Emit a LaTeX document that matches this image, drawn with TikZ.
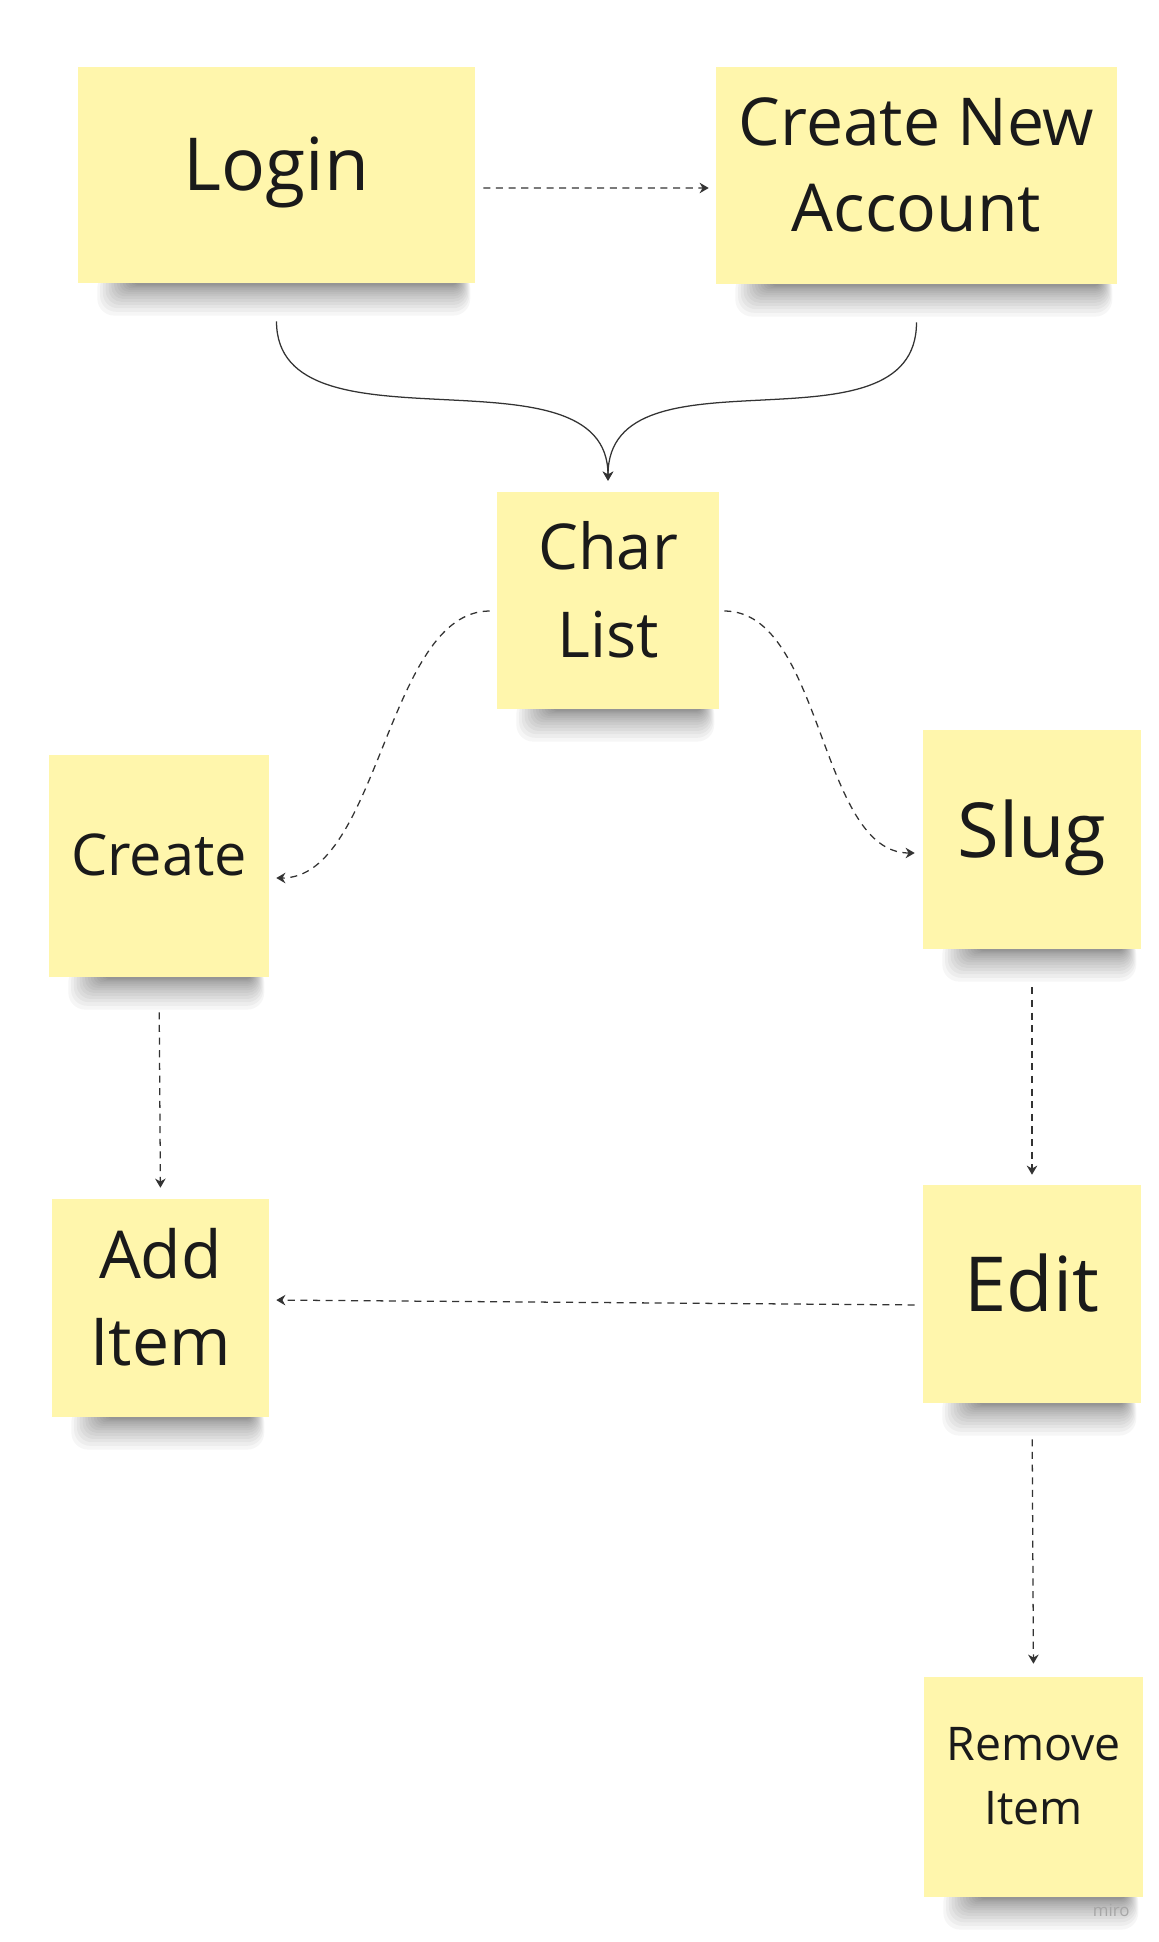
\documentclass[tikz,border=0pt]{standalone}
\usepackage{fontspec}
\setmainfont{Open Sans}
\usetikzlibrary{arrows.meta}
\pgfdeclarelayer{bg}
\pgfsetlayers{bg,main}
\definecolor{notefill}{HTML}{FFF6AC}
\definecolor{notetext}{HTML}{1A1A1A}
\definecolor{linegray}{HTML}{333333}
\newcommand{\notefont}[2]{\fontsize{#1}{#2}\selectfont}
% invisible strut that lifts the text a little above the middle
\newcommand{\sinkstrut}{\rule[-0.55cm]{0pt}{0.55cm}}
\tikzset{
        note/.style={fill=notefill, text=notetext, inner sep=0pt, align=center},
        flow/.style={draw=linegray, line width=0.9pt, -{Stealth[length=6.5pt,width=7.5pt]}},
        dflow/.style={flow, dash pattern=on 5pt off 4pt},
}
\begin{document}
\begin{tikzpicture}
        \useasboundingbox (0cm, 0cm) rectangle (28.95cm, -48.55cm);
        \node (login) [note, minimum width=9.925cm, minimum height=5.4cm, font=\notefont{52pt}{72pt}] at (6.9125cm, -4.375cm) {Login\sinkstrut};
        \node (newacc) [note, minimum width=10.025cm, minimum height=5.425cm, font=\notefont{47pt}{61pt}] at (22.9125cm, -4.3875cm) {Create New\\Account\sinkstrut};
        \node (charlist) [note, minimum width=5.55cm, minimum height=5.425cm, font=\notefont{45pt}{63pt}] at (15.2cm, -15.0125cm) {Char\\List\sinkstrut};
        \node (create) [note, minimum width=5.5cm, minimum height=5.55cm, font=\notefont{41pt}{56pt}] at (3.975cm, -21.65cm) {Create\sinkstrut};
        \node (slug) [note, minimum width=5.45cm, minimum height=5.475cm, font=\notefont{54pt}{74pt}] at (25.8cm, -20.9875cm) {Slug\sinkstrut};
        \node (additem) [note, minimum width=5.425cm, minimum height=5.45cm, font=\notefont{47pt}{62pt}] at (4.0125cm, -32.7cm) {Add\\Item\sinkstrut};
        \node (edit) [note, minimum width=5.45cm, minimum height=5.45cm, font=\notefont{54pt}{74pt}] at (25.8cm, -32.35cm) {Edit\sinkstrut};
        \node (remove) [note, minimum width=5.475cm, minimum height=5.5cm, font=\notefont{33pt}{46pt}] at (25.8375cm, -44.675cm) {Remove\\Item\sinkstrut};
        \node (miro) [text=black!35, font=\notefont{12pt}{14pt}] at (27.78cm, -47.75cm) {miro};
        \begin{pgfonlayer}{bg}
                \fill[white] (0cm, 0cm) rectangle (28.95cm, -48.55cm);
                % soft shadows under the notes
                \foreach \n in {login,newacc,charlist,create,slug,additem,edit,remove}
                        \foreach \k in {0,...,13}
                                \fill[black, opacity=0.035, rounded corners={(0.1+0.025*\k)*1cm}]
                                        ([xshift={(1.4-0.07*\k)*1cm}, yshift=0.3cm]\n.south west) rectangle
                                        ([xshift={-(0.45-0.025*\k)*1cm}, yshift={-(0.04+0.02*\k+0.003*\k*\k)*1cm}]\n.south east);
                \draw[dflow, shorten <=0.2cm, shorten >=0.175cm] ([yshift=-0.325cm]login.east) -- ([yshift=-0.3125cm]newacc.west);
                \draw[flow, shorten <=0.95cm, shorten >=0.275cm] (login.south) .. controls +(0,-4.425) and +(0,3.8) .. (charlist.north);
                \draw[flow, shorten <=0.95cm, shorten >=0.275cm] (newacc.south) .. controls +(0,-4.425) and +(0,3.8) .. (charlist.north);
                \draw[dflow, shorten <=0.175cm, shorten >=0.175cm] ([yshift=-0.2625cm]charlist.west) .. controls +(-2.75,0) and +(2.75,0) .. ([yshift=-0.3cm]create.east);
                \draw[dflow, shorten <=0.125cm, shorten >=0.2cm] ([yshift=-0.2625cm]charlist.east) .. controls +(2.6,0) and +(-2.6,0) .. ([yshift=-0.3375cm]slug.west);
                \draw[dflow, shorten <=0.875cm, shorten >=0.275cm] (create.south) -- (additem.north);
                \draw[dflow, shorten <=0.95cm, shorten >=0.25cm] (slug.south) -- (edit.north);
                \draw[dflow, shorten <=0.2cm, shorten >=0.175cm] ([yshift=-0.275cm]edit.west) -- ([yshift=0.2cm]additem.east);
                \draw[dflow, shorten <=0.9cm, shorten >=0.325cm] (edit.south) -- (remove.north);
        \end{pgfonlayer}
\end{tikzpicture}
\end{document}
